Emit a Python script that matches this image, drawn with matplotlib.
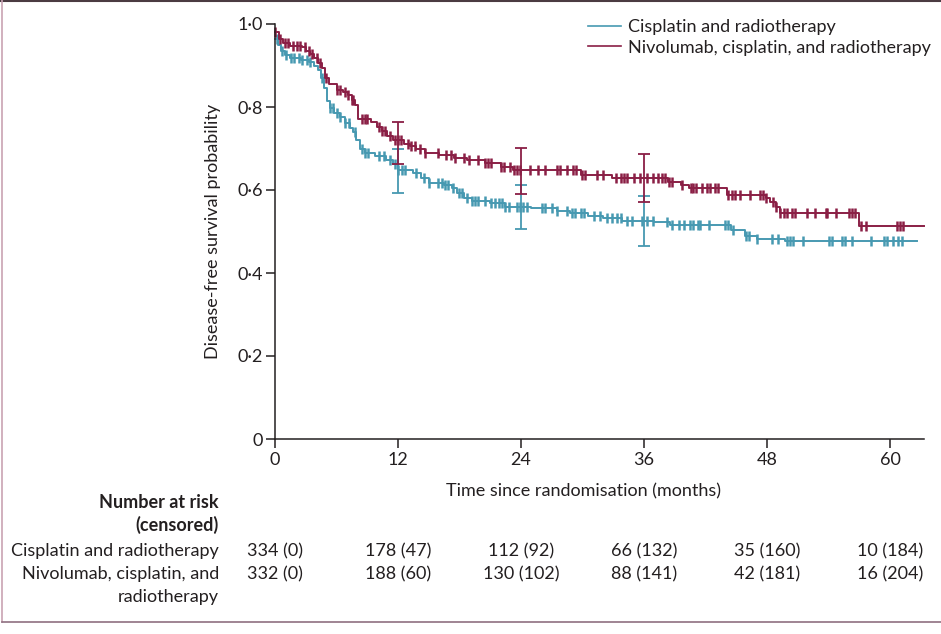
import numpy as np
import matplotlib
matplotlib.use('Agg')
import matplotlib.pyplot as plt
from matplotlib.lines import Line2D
from matplotlib.transforms import blended_transform_factory

plt.rcParams['font.family'] = ['Lato', 'DejaVu Sans']

# Kaplan-Meier steps (months, survival after step)
cis_times = [0, 0.3, 0.6, 1.0, 1.5, 2.5, 3.3, 3.8, 4.2, 4.5, 4.8, 5.1, 5.4, 5.8, 6.3, 6.8, 7.3, 7.6,
             7.9, 8.3, 8.8, 9.8, 10.8, 11.5, 12.0, 13.5, 14.2, 15.0, 16.5, 17.3, 17.8, 18.4, 19.2,
             21.0, 22.4, 25.0, 27.5, 28.8, 30.5, 32.0, 33.8, 37.0, 38.5, 44.5, 45.8, 47.0, 49.7]
cis_surv = [0.965, 0.95, 0.935, 0.925, 0.918, 0.913, 0.908, 0.90, 0.89, 0.87, 0.845, 0.815, 0.798,
            0.785, 0.775, 0.762, 0.75, 0.74, 0.72, 0.70, 0.688, 0.682, 0.672, 0.662, 0.648, 0.64,
            0.628, 0.618, 0.612, 0.604, 0.592, 0.58, 0.574, 0.568, 0.56, 0.556, 0.55, 0.544, 0.538,
            0.532, 0.526, 0.522, 0.516, 0.504, 0.49, 0.482, 0.476]
cis_end = 62.6

nivo_times = [0, 0.4, 0.8, 1.5, 2.6, 3.0, 3.4, 3.8, 4.2, 4.6, 4.9, 5.3, 6.0, 6.6, 7.1, 7.5, 7.8, 8.1,
              9.4, 9.9, 10.4, 10.9, 11.5, 12.6, 13.2, 13.8, 14.6, 16.0, 17.5, 18.7, 20.5, 22.0, 23.2,
              29.8, 32.9, 38.3, 39.6, 40.4, 44.1, 47.9, 48.3, 48.9, 49.3, 57.0]
nivo_surv = [0.98, 0.965, 0.955, 0.948, 0.944, 0.935, 0.928, 0.918, 0.905, 0.895, 0.87, 0.855, 0.842,
             0.835, 0.828, 0.818, 0.805, 0.77, 0.765, 0.752, 0.742, 0.73, 0.72, 0.712, 0.706, 0.698,
             0.69, 0.684, 0.678, 0.672, 0.664, 0.656, 0.648, 0.636, 0.628, 0.62, 0.612, 0.604, 0.588,
             0.58, 0.572, 0.56, 0.544, 0.514]
nivo_end = 63.3

# censoring times
cis_cens = [0.2, 0.7, 1.1, 1.6, 1.9, 2.3, 2.6, 3.1, 3.4, 4.6, 5.4, 5.7, 6.0, 6.3, 6.8, 7.2, 7.8, 8.5,
            8.8, 9.1, 10.1, 10.6, 11.2, 11.7, 12.0, 12.4, 12.7, 13.8, 14.5, 15.0, 15.9, 16.3, 16.6,
            16.9, 17.4, 17.9, 18.2, 18.7, 19.2, 19.5, 19.8, 20.5, 21.1, 21.5, 21.8, 22.1, 22.4, 22.8,
            23.6, 23.9, 24.2, 24.6, 26.0, 26.3, 27.0, 27.5, 28.5, 29.0, 29.3, 29.8, 30.1, 31.1, 31.7,
            32.4, 32.9, 33.4, 33.7, 34.3, 34.8, 35.8, 36.3, 36.9, 38.2, 38.7, 39.4, 39.9, 40.5, 40.8,
            41.3, 41.5, 42.3, 43.9, 44.2, 44.7, 45.9, 46.2, 47.0, 48.5, 49.1, 49.9, 50.2, 50.5, 51.5,
            54.0, 54.3, 55.3, 55.6, 56.3, 58.1, 59.4, 59.7, 60.3, 60.8, 61.2]
nivo_cens = [0.0, 0.5, 1.0, 1.3, 1.8, 2.1, 2.4, 2.9, 3.3, 3.6, 4.1, 4.4, 5.0, 6.0, 6.3, 6.8, 7.1, 7.5,
             7.6, 8.5, 8.8, 9.0, 10.1, 10.4, 10.7, 11.2, 11.7, 12.0, 12.3, 13.0, 13.3, 13.7, 14.1,
             14.6, 15.9, 16.7, 17.2, 17.6, 18.4, 18.9, 19.8, 20.5, 20.8, 21.1, 22.0, 22.3, 22.9, 23.3,
             23.6, 23.9, 24.9, 25.7, 26.3, 27.5, 27.8, 28.5, 29.1, 29.4, 29.9, 30.2, 31.4, 32.0, 33.3,
             33.7, 34.0, 34.3, 35.0, 35.6, 36.3, 36.9, 37.4, 37.7, 38.0, 38.4, 38.7, 39.7, 40.6, 40.8,
             41.1, 41.6, 42.1, 42.4, 42.9, 43.2, 44.2, 44.6, 44.9, 45.4, 46.3, 47.3, 47.6, 47.9, 48.6,
             48.9, 49.3, 49.6, 49.9, 50.4, 50.7, 51.9, 52.7, 53.7, 53.8, 54.7, 56.0, 56.3, 56.6, 57.2,
             57.6, 60.7, 61.0, 61.3]

# 95% CI at landmark times
ci_times = [12, 24, 36]
cis_ci_low = [0.592, 0.505, 0.465]
cis_ci_high = [0.698, 0.612, 0.585]
nivo_ci_low = [0.663, 0.590, 0.572]
nivo_ci_high = [0.764, 0.702, 0.687]

risk_times = [0, 12, 24, 36, 48, 60]
cis_risk = ['334 (0)', '178 (47)', '112 (92)', '66 (132)', '35 (160)', '10 (184)']
nivo_risk = ['332 (0)', '188 (60)', '130 (102)', '88 (141)', '42 (181)', '16 (204)']

teal = '#4799b1'
red = '#8a1f45'
ink = '#231f20'
fs = 13


def surv_at(times, surv, t):
    idx = np.searchsorted(times, t, side='right') - 1
    return np.asarray(surv)[np.clip(idx, 0, None)]


fig = plt.figure(figsize=(9.41, 6.34), dpi=100)
ax = fig.add_axes([275 / 941, 1 - 439 / 634, 649 / 941, 415 / 634])

for times, surv, end, cens, lo, hi, col in [
        (cis_times, cis_surv, cis_end, cis_cens, cis_ci_low, cis_ci_high, teal),
        (nivo_times, nivo_surv, nivo_end, nivo_cens, nivo_ci_low, nivo_ci_high, red)]:
    ax.step(times + [end], surv + [surv[-1]], where='post', color=col, lw=1.4, clip_on=False)
    ax.plot(cens, surv_at(times, surv, cens), ls='none', marker='|', ms=7.5, mew=1.8,
            color=col, clip_on=False)
    mid = surv_at(times, surv, ci_times)
    ax.errorbar(ci_times, mid, yerr=[mid - np.array(lo), np.array(hi) - mid], fmt='none',
                ecolor=col, elinewidth=1.3, capsize=4.5, capthick=1.3)

ax.set_xlim(0, 63.3)
ax.set_ylim(0, 1.0)
ax.set_xticks(risk_times)
ax.set_yticks([0, 0.2, 0.4, 0.6, 0.8, 1.0])
ax.set_yticklabels(['0', '0·2', '0·4', '0·6', '0·8', '1·0'])
for s in ['top', 'right']:
    ax.spines[s].set_visible(False)
for s in ['left', 'bottom']:
    ax.spines[s].set_linewidth(1.1)
    ax.spines[s].set_color(ink)
ax.tick_params(length=6.5, width=1.1, color=ink, labelsize=fs, labelcolor=ink)
ax.tick_params(axis='x', pad=3)
ax.tick_params(axis='y', pad=2)
ax.set_ylabel('Disease-free survival probability', fontsize=fs, color=ink, labelpad=12)
fig.text(583 / 941, 1 - 491 / 634, 'Time since randomisation (months)', ha='center',
         va='center', fontsize=fs, color=ink)

handles = [Line2D([], [], color=teal, lw=1.2), Line2D([], [], color=red, lw=1.2)]
fig.legend(handles, ['Cisplatin and radiotherapy', 'Nivolumab, cisplatin, and radiotherapy'],
           loc='upper left', bbox_to_anchor=(588 / 941, 1 - 19 / 634), frameon=False,
           fontsize=fs, handlelength=1.8, handletextpad=0.4, labelspacing=0.25, borderpad=0,
           borderaxespad=0, labelcolor=ink)

# number at risk table
lab_x = 219 / 941
fig.text(lab_x, 1 - 502 / 634, 'Number at risk', ha='right', va='center', fontsize=fs,
         fontweight='bold', color=ink)
fig.text(lab_x, 1 - 525 / 634, '(censored)', ha='right', va='center', fontsize=fs,
         fontweight='bold', color=ink)
fig.text(lab_x, 1 - 551 / 634, 'Cisplatin and radiotherapy', ha='right', va='center',
         fontsize=fs, color=ink)
fig.text(lab_x, 1 - 574 / 634, 'Nivolumab, cisplatin, and', ha='right', va='center',
         fontsize=fs, color=ink)
fig.text(lab_x, 1 - 597 / 634, 'radiotherapy', ha='right', va='center', fontsize=fs, color=ink)
trans = blended_transform_factory(ax.transData, fig.transFigure)
for t, a, b in zip(risk_times, cis_risk, nivo_risk):
    ax.text(t, 1 - 551 / 634, a, transform=trans, ha='center', va='center', fontsize=fs,
            color=ink, clip_on=False)
    ax.text(t, 1 - 574 / 634, b, transform=trans, ha='center', va='center', fontsize=fs,
            color=ink, clip_on=False)

# frame around the panel
fig.add_artist(Line2D([0, 1], [0.999, 0.999], transform=fig.transFigure, color='#4b3b42', lw=1.5))
fig.add_artist(Line2D([2 / 941, 2 / 941], [1 - 622 / 634, 1], transform=fig.transFigure,
                      color='#c9a3b3', lw=1.2))
fig.add_artist(Line2D([2 / 941, 1], [1 - 622 / 634, 1 - 622 / 634], transform=fig.transFigure,
                      color='#8f6f80', lw=1.2))

fig.savefig('out.png', dpi=100)
